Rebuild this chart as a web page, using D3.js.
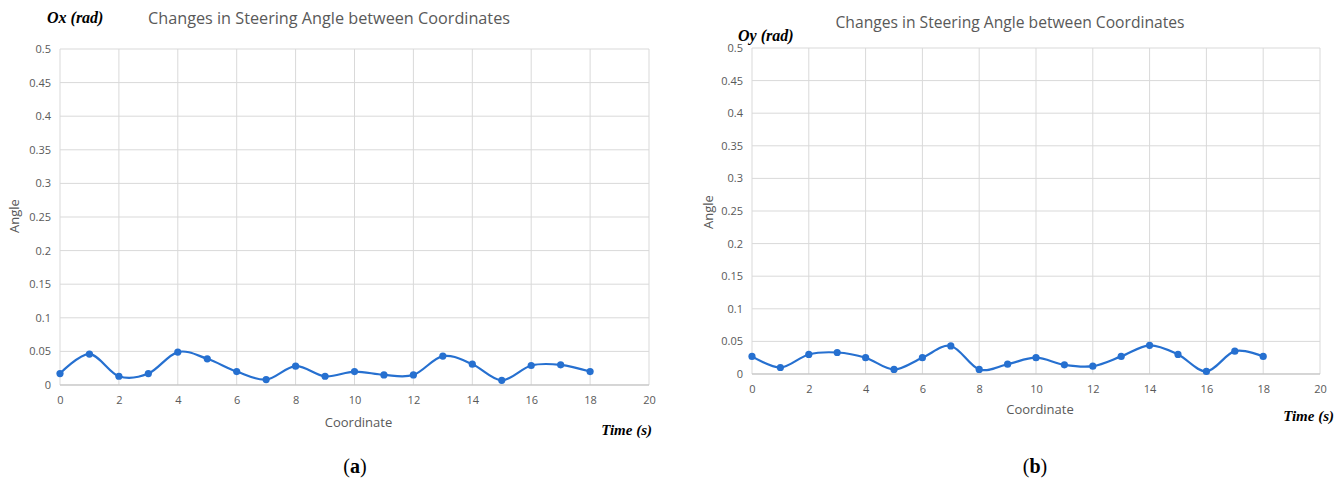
<!DOCTYPE html>
<html>
<head>
  <title>Steering angle</title>
  <script type="text/javascript" src="https://d3js.org/d3.v7.min.js"></script>
  <style>
    body { margin: 0; background: #fff; }
  </style>
</head>
<body>
  <div id="container"></div>
  <script type="text/javascript">
    // data
    var coords = [0, 1, 2, 3, 4, 5, 6, 7, 8, 9, 10, 11, 12, 13, 14, 15, 16, 17, 18];
    var oxAngles = [0.017, 0.046, 0.013, 0.017, 0.049, 0.039, 0.020, 0.008, 0.028, 0.013, 0.020, 0.015, 0.015, 0.043, 0.031, 0.007, 0.029, 0.030, 0.020];
    var oyAngles = [0.027, 0.010, 0.030, 0.033, 0.025, 0.007, 0.025, 0.043, 0.007, 0.015, 0.025, 0.014, 0.012, 0.027, 0.044, 0.030, 0.004, 0.035, 0.027];
    var xTicks = [0, 2, 4, 6, 8, 10, 12, 14, 16, 18, 20];
    var yTicks = [0, 0.05, 0.1, 0.15, 0.2, 0.25, 0.3, 0.35, 0.4, 0.45, 0.5];
    var titleText = 'Changes in Steering Angle between Coordinates';

    var W = 1336, H = 479;
    var blue = '#2670d0', grid = '#d9d9d9', tickGrey = '#595959';
    var sans = '"Open Sans", "Noto Sans", sans-serif';
    var serif = '"Liberation Serif", "DejaVu Serif", serif';

    var svg = d3.select('#container').append('svg')
      .attr('width', W)
      .attr('height', H);

    function drawPanel(p)
    {
      var x = d3.scaleLinear().domain([0, 20]).range([p.left, p.right]);
      var y = d3.scaleLinear().domain([0, 0.5]).range([p.bottom, p.top]);
      var g = svg.append('g');

      // gridlines
      g.append('g').selectAll('line.h')
        .data(yTicks)
        .enter().append('line')
          .attr('x1', p.left).attr('x2', p.right)
          .attr('y1', d => y(d)).attr('y2', d => y(d))
          .attr('stroke', grid).attr('stroke-width', 1);
      g.append('g').selectAll('line.v')
        .data(xTicks)
        .enter().append('line')
          .attr('x1', d => x(d)).attr('x2', d => x(d))
          .attr('y1', p.top).attr('y2', p.bottom)
          .attr('stroke', grid).attr('stroke-width', 1);

      // axes, tick text only
      var yAxis = g.append('g')
        .attr('transform', `translate(${p.left},0)`)
        .call(d3.axisLeft(y).tickValues(yTicks).tickSize(0).tickPadding(9).tickFormat(d => d3.format('~g')(d)));
      var xAxis = g.append('g')
        .attr('transform', `translate(0,${p.bottom})`)
        .call(d3.axisBottom(x).tickValues(xTicks).tickSize(0).tickPadding(11));
      [xAxis, yAxis].forEach(function (a) {
        a.select('.domain').remove();
        a.selectAll('text')
          .attr('fill', tickGrey)
          .style('font', `11px ${sans}`);
      });
      g.append('line')
        .attr('x1', p.left).attr('x2', p.right)
        .attr('y1', p.bottom).attr('y2', p.bottom)
        .attr('stroke', '#bfbfbf');

      // series
      var line = d3.line()
        .x((d, i) => x(coords[i]))
        .y(d => y(d))
        .curve(d3.curveCatmullRom.alpha(0));
      g.append('path')
        .datum(p.values)
        .attr('d', line)
        .attr('fill', 'none')
        .attr('stroke', blue)
        .attr('stroke-width', 2.2);
      g.selectAll('circle')
        .data(p.values)
        .enter().append('circle')
          .attr('cx', (d, i) => x(coords[i]))
          .attr('cy', d => y(d))
          .attr('r', 3.6)
          .attr('fill', blue);

      // labels
      g.append('text')
        .attr('x', p.titleX).attr('y', p.titleY)
        .attr('text-anchor', 'middle')
        .attr('fill', '#595959')
        .attr('textLength', p.titleW)
        .attr('lengthAdjust', 'spacingAndGlyphs')
        .style('font', `16px ${sans}`)
        .text(titleText);
      g.append('text')
        .attr('x', p.unitX).attr('y', p.unitY)
        .attr('fill', '#000')
        .style('font', `italic bold 16px ${serif}`)
        .text(p.unit);
      g.append('text')
        .attr('transform', `translate(${p.angleX},${p.angleY}) rotate(-90)`)
        .attr('text-anchor', 'middle')
        .attr('fill', tickGrey)
        .style('font', `13px ${sans}`)
        .text('Angle');
      g.append('text')
        .attr('x', (p.left + p.right) / 2 + 4).attr('y', p.coordY)
        .attr('text-anchor', 'middle')
        .attr('fill', tickGrey)
        .style('font', `13px ${sans}`)
        .text('Coordinate');
      g.append('text')
        .attr('x', p.timeX).attr('y', p.timeY)
        .attr('text-anchor', 'end')
        .attr('fill', '#000')
        .style('font', `italic bold 15px ${serif}`)
        .text('Time (s)');
      var cap = g.append('text')
        .attr('x', p.capX).attr('y', 473)
        .attr('text-anchor', 'middle')
        .attr('fill', '#000')
        .style('font', `20px ${serif}`);
      cap.append('tspan').text('(');
      cap.append('tspan').attr('font-weight', 'bold').text(p.cap);
      cap.append('tspan').text(')');
    }

    drawPanel({
      values: oxAngles, left: 60, right: 649, top: 49, bottom: 385,
      titleX: 329, titleY: 24, titleW: 362,
      unit: 'Ox (rad)', unitX: 47, unitY: 23,
      angleX: 19, angleY: 216, coordY: 427,
      timeX: 652, timeY: 435, capX: 355, cap: 'a'
    });
    drawPanel({
      values: oyAngles, left: 752, right: 1320, top: 48, bottom: 374,
      titleX: 1010, titleY: 28, titleW: 349,
      unit: 'Oy (rad)', unitX: 738, unitY: 41,
      angleX: 713, angleY: 212, coordY: 414,
      timeX: 1334, timeY: 421, capX: 1035, cap: 'b'
    });
  </script>
</body>
</html>
